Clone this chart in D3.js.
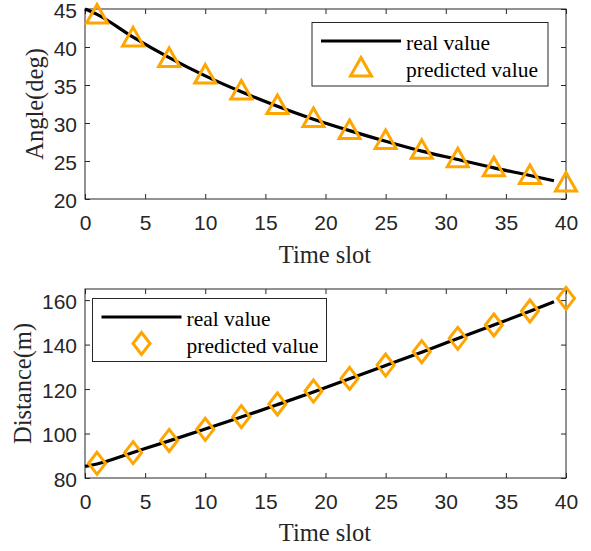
<!DOCTYPE html>
<html>
<head>
<meta charset="utf-8">
<script src="https://cdn.jsdelivr.net/npm/d3@7"></script>
<style>
  body { margin: 0; background: #fff; }
  svg { display: block; }
  .tick text { font-family: "Liberation Sans", Arial, sans-serif; fill: #262626; }
</style>
</head>
<body>
<svg id="chart" width="591" height="551"></svg>
<script>
// time slots where predictions were plotted
const slots = [1, 4, 7, 10, 13, 16, 19, 22, 25, 28, 31, 34, 37, 40];
const realSlots = [0, 1, 4, 7, 10, 13, 16, 19, 22, 25, 28, 31, 34, 37, 39];

const angleReal = [45.0, 44.3, 41.3, 38.6, 36.2, 34.1, 32.2, 30.5, 29.0, 27.6, 26.3, 25.2, 24.1, 23.1, 22.4];
const anglePred = [44.2, 41.2, 38.5, 36.3, 34.2, 32.3, 30.6, 29.0, 27.7, 26.4, 25.3, 24.1, 23.1, 22.1];

const distReal = [85.2, 86.3, 91.5, 96.7, 102.0, 107.4, 113.0, 118.7, 124.6, 130.6, 136.6, 142.7, 148.8, 155.0, 159.3];
const distPred = [86.6, 91.4, 96.9, 101.9, 107.6, 113.3, 119.1, 124.8, 130.8, 136.8, 142.8, 148.8, 155.1, 160.8];

const xTicks = [0, 5, 10, 15, 20, 25, 30, 35, 40];
const angleTicks = [20, 25, 30, 35, 40, 45];
const distTicks = [80, 100, 120, 140, 160];

const svg = d3.select("#chart");
const axisColor = "#262626";
const orange = "#FFA500";
const serif = "'Liberation Serif', 'Times New Roman', serif";

const x = d3.scaleLinear().domain([0, 40]).range([85, 566]);

function drawPanel(cfg) {
  const y = d3.scaleLinear().domain(cfg.yDomain).range(cfg.yRange);
  const g = svg.append("g");
  const top = cfg.yRange[1], bottom = cfg.yRange[0];

  // axes (ticks pointing inward, like matlab)
  const bx = g.append("g").attr("transform", `translate(0,${bottom})`)
    .call(d3.axisBottom(x).tickValues(xTicks).tickSizeInner(-5).tickSizeOuter(0).tickPadding(16));
  const tx = g.append("g").attr("transform", `translate(0,${top})`)
    .call(d3.axisTop(x).tickValues(xTicks).tickSizeInner(-5).tickSizeOuter(0).tickFormat(""));
  const ly = g.append("g").attr("transform", `translate(${x.range()[0]},0)`)
    .call(d3.axisLeft(y).tickValues(cfg.yTicks).tickSizeInner(-5).tickSizeOuter(0).tickPadding(8));
  const ry = g.append("g").attr("transform", `translate(${x.range()[1]},0)`)
    .call(d3.axisRight(y).tickValues(cfg.yTicks).tickSizeInner(-5).tickSizeOuter(0).tickFormat(""));
  [bx, tx, ly, ry].forEach(a => {
    a.select(".domain").remove();
    a.selectAll(".tick line").attr("stroke", axisColor);
    a.selectAll(".tick text").attr("font-size", 21).attr("fill", axisColor);
  });
  ly.selectAll(".tick text").attr("dy", "0.4em");

  g.append("rect")
    .attr("x", x.range()[0]).attr("y", top)
    .attr("width", x.range()[1] - x.range()[0]).attr("height", bottom - top)
    .attr("fill", "none").attr("stroke", axisColor).attr("stroke-width", 1);

  // real value curve
  const line = d3.line()
    .x((d, i) => x(realSlots[i]))
    .y(d => y(d))
    .curve(d3.curveMonotoneX);
  g.append("path")
    .datum(cfg.real)
    .attr("d", line)
    .attr("fill", "none")
    .attr("stroke", "#000")
    .attr("stroke-width", 3.2);

  // predicted markers
  g.selectAll(".marker")
    .data(cfg.pred)
    .enter().append("path")
    .attr("class", "marker")
    .attr("transform", (d, i) => `translate(${x(slots[i])},${y(d)})`)
    .attr("d", cfg.marker)
    .attr("fill", "none")
    .attr("stroke", orange)
    .attr("stroke-width", 3)
    .attr("stroke-linejoin", "miter");

  // axis labels
  g.append("text")
    .attr("x", 325).attr("y", cfg.xLabelY)
    .attr("text-anchor", "middle")
    .attr("font-family", serif)
    .attr("font-size", 24.5).attr("fill", axisColor)
    .text("Time slot");
  g.append("text")
    .attr("transform", `translate(${cfg.yLabelX},${(top + bottom) / 2}) rotate(-90)`)
    .attr("text-anchor", "middle")
    .attr("font-family", serif)
    .attr("font-size", 24.5).attr("fill", axisColor)
    .text(cfg.yLabel);

  // legend
  const L = cfg.legend;
  const lg = g.append("g").attr("transform", `translate(${L.x},${L.y})`);
  lg.append("rect").attr("width", L.w).attr("height", L.h)
    .attr("fill", "#fff").attr("stroke", axisColor).attr("stroke-width", 1);
  lg.append("line").attr("x1", 9).attr("x2", 89).attr("y1", 18.5).attr("y2", 18.5)
    .attr("stroke", "#000").attr("stroke-width", 3.2);
  lg.append("path").attr("transform", `translate(49,${L.h - 18})`)
    .attr("d", cfg.marker).attr("fill", "none").attr("stroke", orange).attr("stroke-width", 3);
  const labels = ["real value", "predicted value"];
  lg.selectAll(".lgtext").data(labels).enter().append("text")
    .attr("x", 94).attr("y", (d, i) => i === 0 ? 27.5 : 54.5)
    .attr("font-family", serif)
    .attr("font-size", 21.5).attr("fill", "#000")
    .text(d => d);
}

const triangle = "M0,-10.5L10.5,8L-10.5,8Z";
const diamond = "M0,-11L8.5,0L0,11L-8.5,0Z";

drawPanel({
  yDomain: [20, 45], yRange: [199, 9], yTicks: angleTicks,
  real: angleReal, pred: anglePred, marker: triangle,
  yLabel: "Angle(deg)", yLabelX: 43, xLabelY: 263,
  legend: { x: 312, y: 22.5, w: 236, h: 63.5 }
});

drawPanel({
  yDomain: [80, 165], yRange: [478, 289], yTicks: distTicks,
  real: distReal, pred: distPred, marker: diamond,
  yLabel: "Distance(m)", yLabelX: 31, xLabelY: 541,
  legend: { x: 92.5, y: 298.5, w: 234, h: 63 }
});
</script>
</body>
</html>
